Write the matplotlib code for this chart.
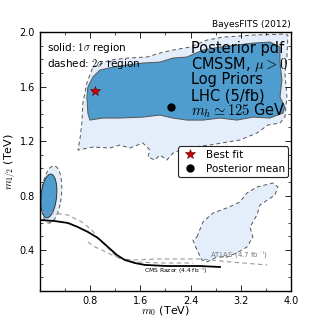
import matplotlib
matplotlib.use("Agg")
import matplotlib.pyplot as plt
from matplotlib.patches import Polygon, Ellipse
from matplotlib.ticker import MultipleLocator

plt.rcParams['mathtext.fontset'] = 'cm'
plt.rcParams['font.family'] = ['DejaVu Sans']

# ---- data (TeV) ----
outer_big_m0 = [0.845, 1.116, 1.386, 1.705, 1.912, 2.120, 2.390, 2.661, 2.916, 3.394, 3.873, 3.952,
                3.936, 3.904, 3.936, 3.904, 3.825, 3.633, 3.458, 3.187, 2.709, 2.311, 2.120, 2.024,
                1.912, 1.833, 1.721, 1.753, 1.641, 1.434, 1.275, 1.116, 0.845, 0.606, 0.637, 0.669,
                0.685, 0.749]
outer_big_m12 = [1.743, 1.795, 1.809, 1.817, 1.846, 1.868, 1.890, 1.941, 1.963, 1.978, 1.985, 1.978,
                 1.817, 1.699, 1.523, 1.376, 1.332, 1.318, 1.259, 1.208, 1.171, 1.149, 1.112, 1.061,
                 1.098, 1.061, 1.083, 1.134, 1.186, 1.149, 1.171, 1.149, 1.156, 1.134, 1.208, 1.332,
                 1.479, 1.626]

inner_big_m0 = [0.845, 0.956, 1.163, 1.386, 1.641, 1.912, 2.120, 2.343, 2.598, 2.869, 3.394, 3.665,
                3.825, 3.825, 3.857, 3.825, 3.904, 3.873, 3.665, 3.394, 3.139, 2.869, 2.598, 2.343,
                2.120, 1.912, 1.641, 1.275, 1.004, 0.797, 0.765, 0.749, 0.765]
inner_big_m12 = [1.670, 1.721, 1.743, 1.758, 1.773, 1.780, 1.809, 1.817, 1.868, 1.890, 1.919, 1.927,
                 1.890, 1.773, 1.648, 1.523, 1.450, 1.406, 1.369, 1.376, 1.354, 1.369, 1.354, 1.354,
                 1.369, 1.391, 1.376, 1.369, 1.369, 1.354, 1.406, 1.523, 1.596]

outer_lr_m0 = [2.502, 2.598, 2.757, 2.980, 3.187, 3.299, 3.458, 3.713, 3.793, 3.745, 3.506, 3.458,
               3.347, 3.394, 3.299, 3.139, 2.980, 2.821, 2.661, 2.582, 2.502, 2.438]
outer_lr_m12 = [0.496, 0.606, 0.672, 0.709, 0.753, 0.819, 0.863, 0.892, 0.863, 0.804, 0.731, 0.657,
                0.569, 0.496, 0.423, 0.379, 0.349, 0.349, 0.313, 0.327, 0.401, 0.474]

# small low-m0 island: centre, axes (TeV), tilt (deg)
inner_small = dict(xy=(0.143, 0.797), width=0.333, height=0.24, angle=67.6)
outer_small = dict(xy=(0.185, 0.808), width=0.434, height=0.31, angle=68.5)

cms_m0 = [0.0, 0.239, 0.446, 0.606, 0.765, 0.924, 1.084, 1.227, 1.355, 1.514, 1.673, 2.02, 2.55, 2.87]
cms_m12 = [0.621, 0.613, 0.599, 0.569, 0.533, 0.489, 0.423, 0.364, 0.327, 0.305, 0.291, 0.283,
           0.283, 0.276]

atlas_a_m0 = [0.032, 0.239, 0.446, 0.669, 0.829, 0.924, 1.084, 1.243, 1.466, 1.912, 2.55, 3.03, 3.62]
atlas_a_m12 = [0.679, 0.672, 0.657, 0.606, 0.547, 0.489, 0.415, 0.342, 0.327, 0.335, 0.335, 0.313, 0.291]
atlas_b_m0 = [0.765, 0.876, 0.988, 1.147, 1.307, 1.514, 1.912, 2.44]
atlas_b_m12 = [0.459, 0.423, 0.401, 0.364, 0.335, 0.313, 0.305, 0.305]

best_fit = (0.876, 1.567)
post_mean = (2.09, 1.45)

dark = '#4f9dcf'
light = '#e4eefa'
edge_gray = '#555555'

fig = plt.figure(figsize=(3.24, 3.24), dpi=100)
ax = fig.add_axes([0.123, 0.102, 0.775, 0.799])

def poly(xs, ys, fc, ls, z):
    p = Polygon(list(zip(xs, ys)), closed=True, facecolor=fc, edgecolor=edge_gray,
                linestyle=ls, linewidth=0.7, zorder=z)
    ax.add_patch(p)

poly(outer_big_m0, outer_big_m12, light, (0, (4, 3)), 1)
poly(outer_lr_m0, outer_lr_m12, light, (0, (4, 3)), 1)
ax.add_patch(Ellipse(**outer_small, facecolor=light, edgecolor=edge_gray,
                     linestyle=(0, (4, 3)), linewidth=0.7, zorder=1))
poly(inner_big_m0, inner_big_m12, dark, '-', 2)
ax.add_patch(Ellipse(**inner_small, facecolor=dark, edgecolor='#333333',
                     linewidth=0.7, zorder=2))

ax.plot(atlas_a_m0, atlas_a_m12, color='#999999', ls=(0, (4, 3)), lw=0.8, zorder=3)
ax.plot(atlas_b_m0, atlas_b_m12, color='#999999', ls=(0, (4, 3)), lw=0.8, zorder=3)
ax.plot(cms_m0, cms_m12, color='black', lw=1.3, zorder=4)

ax.text(2.17, 0.252, r'CMS Razor (4.4 fb$^{-1}$)', fontsize=4.3, ha='center', va='center', zorder=5)
ax.text(3.17, 0.36, r'ATLAS (4.7 fb$^{-1}$)', fontsize=5, color='#777777',
        ha='center', va='center', zorder=5)

ax.plot(*best_fit, marker='*', color='#cc0000', markeredgecolor='#550000',
        markeredgewidth=0.4, markersize=7, ls='none', zorder=6, label='Best fit')
ax.plot(*post_mean, marker='o', color='black', markersize=5, ls='none', zorder=6,
        label='Posterior mean')

ax.set_xlim(0.0, 4.0)
ax.set_ylim(0.1, 2.0)
ax.xaxis.set_minor_locator(MultipleLocator(0.4))
ax.yaxis.set_minor_locator(MultipleLocator(0.1))
ax.set_xticks([0.8, 1.6, 2.4, 3.2, 4.0])
ax.set_yticks([0.4, 0.8, 1.2, 1.6, 2.0])
ax.tick_params(which='both', direction='in', top=True, right=True, labelsize=7)
ax.tick_params(which='major', length=4, width=0.6)
ax.tick_params(which='minor', length=2, width=0.5)
for s in ax.spines.values():
    s.set_linewidth(1.0)

ax.set_xlabel(r'$m_0$ (TeV)', fontsize=8, labelpad=-1)
ax.set_ylabel(r'$m_{1/2}$ (TeV)', fontsize=8, labelpad=1)

ax.text(1.0, 1.012, 'BayesFITS (2012)', transform=ax.transAxes, ha='right', va='bottom', fontsize=6.5)
ax.text(0.03, 0.94, r'solid: $1\sigma$ region', transform=ax.transAxes, fontsize=7.5, va='center', zorder=7)
ax.text(0.03, 0.878, r'dashed: $2\sigma$ region', transform=ax.transAxes, fontsize=7.5, va='center', zorder=7)

lines = ['Posterior pdf', r'CMSSM, $\mu>0$', 'Log Priors', 'LHC (5/fb)', r'$m_h\simeq125$ GeV']
y0 = 0.935
for i, t in enumerate(lines):
    ax.text(0.6, y0 - i * 0.06, t, transform=ax.transAxes, fontsize=10.5, va='center', zorder=7)

leg = ax.legend(loc='upper right', bbox_to_anchor=(0.99, 0.558), fontsize=7.5, numpoints=1,
                fancybox=True, framealpha=1, edgecolor='#222222', handletextpad=0.8,
                borderpad=0.35, labelspacing=0.35, handlelength=1.5, borderaxespad=0.)
leg.get_frame().set_linewidth(0.8)
leg.set_zorder(8)

fig.savefig('out.png', dpi=100)
